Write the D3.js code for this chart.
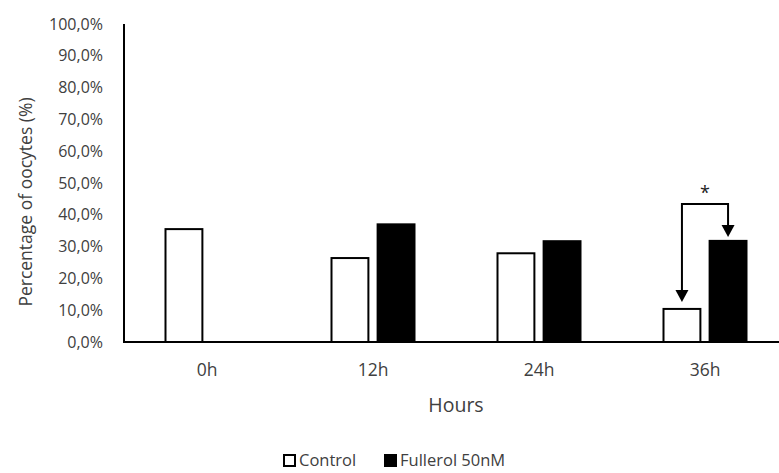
<!DOCTYPE html>
<html>
<head>
<meta charset="utf-8">
<script src="https://cdn.jsdelivr.net/npm/d3@7/dist/d3.min.js"></script>
<style>
  body { margin: 0; background: #fff; }
  text { font-family: "Open Sans", "Noto Sans", sans-serif; fill: #404040; }
</style>
</head>
<body>
<div id="chart"></div>
<script>
let hours = ["0h", "12h", "24h", "36h"];
let series = ["Control", "Fullerol 50nM"];
let control = [35.5, 26.4, 27.9, 10.4];
let fullerol = [null, 37.0, 31.7, 31.8];
let yTicks = [0, 10, 20, 30, 40, 50, 60, 70, 80, 90, 100];

let dim = { 'width': 779, 'height': 473 };

let svg = d3.select('#chart').append('svg')
    .attr('width', dim.width)
    .attr('height', dim.height);

let rows = [];
hours.forEach((h, i) => {
    rows.push({ hour: h, key: series[0], value: control[i] });
    if (fullerol[i] != null) rows.push({ hour: h, key: series[1], value: fullerol[i] });
});

let scaleY = d3.scaleLinear().domain([0, 100]).range([342, 24]);

let scaleX = d3.scaleBand()
    .domain(hours)
    .range([124, 788])
    .paddingInner(0.5)
    .paddingOuter(0.25);

let scaleX1 = d3.scaleBand()
    .domain(series)
    .range([0, scaleX.bandwidth()])
    .paddingInner(0.2);

let colors = d3.scaleOrdinal().domain(series).range(['#ffffff', '#000000']);

// y tick labels
let axisY = svg.append('g')
    .attr('transform', 'translate(124,0)')
    .call(d3.axisLeft(scaleY).tickValues(yTicks).tickSize(0).tickPadding(21)
        .tickFormat(d => d.toFixed(1).replace('.', ',') + '%'));
axisY.select('.domain').remove();
axisY.selectAll('text').style('font-size', '16px').attr('fill', '#404040');

// x tick labels
let axisX = svg.append('g')
    .attr('transform', 'translate(0,342)')
    .call(d3.axisBottom(scaleX).tickSize(0));
axisX.select('.domain').remove();
axisX.selectAll('text')
    .attr('y', 34).attr('dy', null)
    .style('font-size', '17.5px').attr('fill', '#404040');

// bars
svg.selectAll('rect.bar')
    .data(rows)
    .enter()
    .append('rect')
    .attr('class', 'bar')
    .attr('x', d => scaleX(d.hour) + scaleX1(d.key))
    .attr('y', d => scaleY(d.value))
    .attr('width', scaleX1.bandwidth())
    .attr('height', d => scaleY(0) - scaleY(d.value))
    .attr('fill', d => colors(d.key))
    .attr('stroke', '#000')
    .attr('stroke-width', 2);

// axis lines
svg.append('line')
    .attr('x1', 124).attr('x2', 124)
    .attr('y1', scaleY(100)).attr('y2', scaleY(0) + 1)
    .attr('stroke', '#000').attr('stroke-width', 2);
svg.append('line')
    .attr('x1', 123).attr('x2', dim.width)
    .attr('y1', scaleY(0)).attr('y2', scaleY(0))
    .attr('stroke', '#000').attr('stroke-width', 2);

// significance bracket at 36h
let xl = scaleX("36h") + scaleX1(series[0]) + scaleX1.bandwidth() / 2;
let xr = scaleX("36h") + scaleX1(series[1]) + scaleX1.bandwidth() / 2;
let yb = scaleY(43.4);
let tipL = scaleY(control[3]) - 7;
let tipR = scaleY(fullerol[3]) - 4;
svg.append('path')
    .attr('d', `M${xl},${tipL - 10} L${xl},${yb} L${xr},${yb} L${xr},${tipR - 10}`)
    .attr('fill', 'none').attr('stroke', '#000').attr('stroke-width', 2);
[[xl, tipL], [xr, tipR]].forEach(p => {
    svg.append('path')
        .attr('d', `M${p[0] - 6.5},${p[1] - 12} L${p[0] + 6.5},${p[1] - 12} L${p[0]},${p[1]} Z`)
        .attr('fill', '#000');
});
svg.append('text')
    .attr('x', (xl + xr) / 2).attr('y', yb - 5)
    .attr('text-anchor', 'middle')
    .style('font-size', '18px')
    .style('fill', '#222')
    .text('*');

// axis titles
svg.append('text')
    .attr('transform', 'translate(32,202) rotate(-90)')
    .attr('text-anchor', 'middle')
    .style('font-size', '17.5px')
    .text('Percentage of oocytes (%)');
svg.append('text')
    .attr('x', 456).attr('y', 412)
    .attr('text-anchor', 'middle')
    .style('font-size', '19.5px')
    .text('Hours');

// legend
let legendX = [284, 385];
let legend = svg.selectAll('g.legend')
    .data(series)
    .enter()
    .append('g')
    .attr('class', 'legend')
    .attr('transform', (d, i) => `translate(${legendX[i]},455)`);
legend.append('rect')
    .attr('x', 0).attr('y', 0)
    .attr('width', 11).attr('height', 11)
    .attr('fill', d => colors(d))
    .attr('stroke', '#000').attr('stroke-width', 2);
legend.append('text')
    .attr('x', 15).attr('y', 11)
    .style('font-size', '16.5px')
    .text(d => d);
</script>
</body>
</html>
